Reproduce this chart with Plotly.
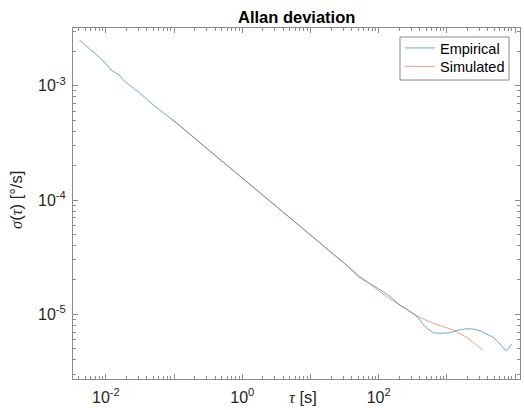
import plotly.graph_objects as go

# ---- data ----
emp_tau = [4.07e-3, 6.31e-3, 8.18e-3, 1.148e-2, 1.19e-2, 1.556e-2, 1.905e-2, 2.512e-2,
           3.162e-2, 5.012e-2, 0.1, 0.3162, 1.0, 3.162, 10.0, 18.24, 31.62, 50.2, 79.4,
           117.0, 158.5, 205.0, 282.0, 361.0, 437.0, 506.0, 632.0, 794.0, 1109.0, 1413.0,
           1950.0, 2512.0, 3055.0, 3981.0, 4786.0, 5998.0, 7112.0, 7586.0, 7943.0, 8913.0]
emp_sigma = [2.512e-3, 2.018e-3, 1.758e-3, 1.419e-3, 1.371e-3, 1.242e-3, 1.084e-3, 9.55e-4,
             8.59e-4, 6.76e-4, 4.90e-4, 2.754e-4, 1.549e-4, 8.71e-5, 4.90e-5, 3.65e-5,
             2.786e-5, 2.133e-5, 1.799e-5, 1.578e-5, 1.380e-5, 1.205e-5, 1.072e-5, 9.66e-6,
             8.32e-6, 7.55e-6, 6.90e-6, 6.82e-6, 6.90e-6, 7.24e-6, 7.48e-6, 7.41e-6, 7.19e-6,
             6.68e-6, 6.30e-6, 5.50e-6, 4.88e-6, 4.84e-6, 4.97e-6, 5.50e-6]

sim_tau = [0.0925, 0.3162, 1.0, 3.162, 10.0, 18.24, 31.62, 50.2, 79.4, 130.9, 223.9,
           361.0, 632.0, 1242.0, 1950.0, 3350.0]
sim_sigma = [5.13e-4, 2.773e-4, 1.560e-4, 8.77e-5, 4.93e-5, 3.65e-5, 2.780e-5, 2.208e-5,
             1.791e-5, 1.426e-5, 1.161e-5, 9.66e-6, 8.34e-6, 7.29e-6, 6.30e-6, 4.88e-6]

x_major = [1e-2, 1e-1, 1e0, 1e1, 1e2, 1e3, 1e4]
x_labels = ["10<sup>-2</sup>", "", "10<sup>0</sup>", "", "10<sup>2</sup>", "", "10<sup>4</sup>"]
y_major = [1e-5, 1e-4, 1e-3]
y_labels = ["10<sup>-5</sup>", "10<sup>-4</sup>", "10<sup>-3</sup>"]

FONT = "Liberation Sans, Arial, Helvetica, sans-serif"
SERIF = "'Liberation Serif', 'Times New Roman', serif"
AX = "#8a8a8a"
TXT = "#262626"

# plot-area geometry in pixels
L, R, T, B = 73, 520, 28, 379
W, H = R - L, B - T


def px_x(p):
    return (p - L) / W


def px_y(p):
    return (B - p) / H


def minor_vals(lo, hi):
    vals = []
    for d in range(lo, hi + 1):
        for k in range(2, 10):
            vals.append(k * 10.0 ** d)
    return vals


fig = go.Figure()
fig.add_trace(go.Scatter(x=emp_tau, y=emp_sigma, mode="lines", name="Empirical",
                         legend="legend",
                         line=dict(color="rgba(0,114,189,0.6)", width=1)))
fig.add_trace(go.Scatter(x=sim_tau, y=sim_sigma, mode="lines", name="Simulated",
                         legend="legend2",
                         line=dict(color="rgba(217,83,25,0.55)", width=1)))

axis_common = dict(
    type="log", showgrid=False, zeroline=False, showline=True, linecolor=AX, linewidth=1,
    mirror="allticks", ticks="inside", ticklen=5, tickcolor=AX, tickwidth=1,
    tickfont=dict(family=FONT, size=16, color=TXT), tickmode="array",
)

fig.update_xaxes(**axis_common, range=[-2.482, 4.072], tickvals=x_major, ticktext=x_labels,
                 ticklabelstandoff=4,
                 minor=dict(tickmode="array", tickvals=minor_vals(-3, 4), ticks="inside",
                            ticklen=3, tickcolor=AX, showgrid=False))
fig.update_yaxes(**axis_common, range=[-5.566, -2.495], tickvals=y_major, ticktext=y_labels,
                 ticklabelstandoff=3,
                 minor=dict(tickmode="array", tickvals=minor_vals(-6, -3), ticks="inside",
                            ticklen=3, tickcolor=AX, showgrid=False))

fig.add_annotation(text="<b>Allan deviation</b>", xref="paper", yref="paper", x=0.5, y=1,
                   yanchor="bottom", yshift=0, showarrow=False,
                   font=dict(family=FONT, size=16.5, color="#000000"))
tau_html = f"<span style=\"font-family:{SERIF}\"><i>τ</i></span>"
sig_html = f"<span style=\"font-family:{SERIF}\"><i>σ</i></span>"
fig.add_annotation(text=f"{tau_html} [s]", xref="paper", yref="paper", x=px_x(303), y=0,
                   yanchor="middle", yshift=-18, showarrow=False,
                   font=dict(family=FONT, size=16.5, color=TXT))
fig.add_annotation(text=f"{sig_html}({tau_html}) [°/s]", xref="paper", yref="paper",
                   x=0, y=px_y(200), xanchor="center", xshift=16 - L, textangle=-90,
                   showarrow=False, font=dict(family=FONT, size=16.5, color=TXT))

# legend frame
fig.add_shape(type="rect", xref="paper", yref="paper",
              x0=px_x(400), x1=px_x(509), y0=px_y(80), y1=px_y(37),
              line=dict(color=AX, width=1), fillcolor="white", layer="above")

leg_common = dict(xanchor="left", yanchor="middle", borderwidth=0,
                  bgcolor="rgba(0,0,0,0)",
                  font=dict(family=FONT, size=14.5, color="#000000"))
fig.update_layout(
    width=524, height=410, margin=dict(l=L, r=524 - R, t=T, b=410 - B),
    paper_bgcolor="white", plot_bgcolor="white",
    showlegend=True,
    legend=dict(x=px_x(400), y=px_y(48), **leg_common),
    legend2=dict(x=px_x(400), y=px_y(66.5), **leg_common),
)

fig.write_html("out.html")
